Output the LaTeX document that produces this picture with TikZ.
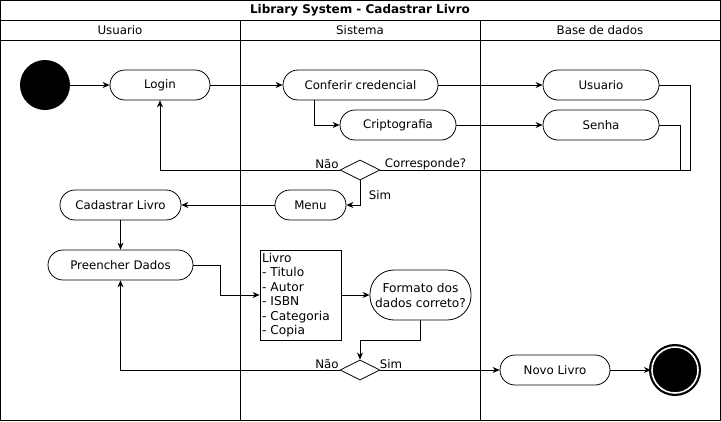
\documentclass[tikz,border=0pt]{standalone}
\usepackage{fontspec}
\setmainfont{DejaVu Sans}
\usetikzlibrary{shapes.geometric,arrows.meta}
\begin{document}
\begin{tikzpicture}[x=1pt,y=-1pt,
  every node/.style={font=\fontsize{11.8}{14}\selectfont},
  lane/.style={draw,line width=1pt,rectangle,inner sep=0,outer sep=0},
  act/.style={draw,line width=0.8pt,rectangle,rounded corners=15pt,minimum height=30pt,inner sep=0},
  dec/.style={draw,line width=0.8pt,diamond,shape aspect=2,minimum width=40pt,minimum height=20pt,inner sep=0},
  lbl/.style={inner sep=0},
  conn/.style={line width=0.8pt},
  arr/.style={conn,-{Stealth[length=7pt,width=6pt]}}
]
\useasboundingbox (0,0) rectangle (721,421);
% swimlanes
\node[lane,minimum width=720pt,minimum height=20pt,font=\fontsize{12}{14}\selectfont\bfseries] (title) at (360,10) {Library System - Cadastrar Livro};
\node[lane,minimum width=240pt,minimum height=20pt] (h1) at (120,30) {Usuario};
\node[lane,minimum width=240pt,minimum height=20pt] (h2) at (360,30) {Sistema};
\node[lane,minimum width=240pt,minimum height=20pt] (h3) at (600,30) {Base de dados};
\node[lane,minimum width=240pt,minimum height=380pt] (l1) at (120,230) {};
\node[lane,minimum width=240pt,minimum height=380pt] (l2) at (360,230) {};
\node[lane,minimum width=240pt,minimum height=380pt] (l3) at (600,230) {};
% nodes
\node[circle,fill=black,minimum size=50pt,inner sep=0] (start) at (45,85) {};
\node[act,minimum width=100pt] (login) at (160,85) {Login};
\node[act,minimum width=155pt] (conf) at (360.5,85) {Conferir credencial};
\node[act,minimum width=116pt] (cripto) at (398,125) {Criptografia};
\node[act,minimum width=116pt] (dbuser) at (601,85) {Usuario};
\node[act,minimum width=116pt] (senha) at (601,125) {Senha};
\node[dec] (dec1) at (360,170) {};
\node[act,minimum width=71pt] (menu) at (310.5,205) {Menu};
\node[act,minimum width=121pt] (cad) at (120.5,205) {Cadastrar Livro};
\node[act,minimum width=145pt] (pre) at (120.5,265) {Preencher Dados};
\node[draw,line width=0.8pt,rectangle,minimum width=81pt,minimum height=90pt,text width=77pt,inner sep=2pt,align=left,font=\fontsize{12.2}{14.5}\selectfont] (livro) at (300.5,295) {Livro\\- Titulo\\- Autor\\- ISBN\\- Categoria\\- Copia};
\node[act,rounded corners=24pt,minimum width=101pt,minimum height=50pt,align=center,font=\fontsize{12.2}{15}\selectfont] (formato) at (420.5,295) {Formato dos\\dados correto?};
\node[dec] (dec2) at (360,370) {};
\node[act,minimum width=110pt] (novo) at (555,370) {Novo Livro};
\node[circle,draw=black,line width=2.2pt,double=white,double distance=1.6pt,fill=black,minimum size=46pt,inner sep=0] (end) at (675,370) {};
% labels
\node[lbl] (nao1) at (327,164) {Não};
\node[lbl] (corr) at (425.5,164) {Corresponde?};
\node[lbl] (sim1) at (380,195) {Sim};
\node[lbl] (nao2) at (327,364) {Não};
\node[lbl] (sim2) at (391,364) {Sim};
% coordinates
\coordinate (c1) at (690,170);
\coordinate (c2) at (680,170);
% connectors
\draw[arr] (start) -- (login);
\draw[arr] (login) -- (conf);
\draw[arr] ([xshift=-46.5pt]conf.south) |- (cripto.west);
\draw[arr] (conf) -- (dbuser);
\draw[arr] (cripto) -- (senha);
\draw[conn] (dbuser.east) -| (c1) -- (dec1.east);
\draw[conn] (senha.east) -| (c2);
\draw[arr] (dec1.west) -| (login.south);
\draw[arr] (dec1.south) |- (menu.east);
\draw[arr] (menu) -- (cad);
\draw[arr] (cad) -- (pre);
\draw[arr] (pre.east) -- ++(27,0) |- (livro.west);
\draw[arr] (livro) -- (formato);
\draw[arr] (formato.south) -- ++(0,20) -| (dec2.north);
\draw[arr] (dec2.west) -| (pre.south);
\draw[arr] (dec2.east) -- (novo.west);
\draw[arr] (novo) -- (end);
\end{tikzpicture}
\end{document}
